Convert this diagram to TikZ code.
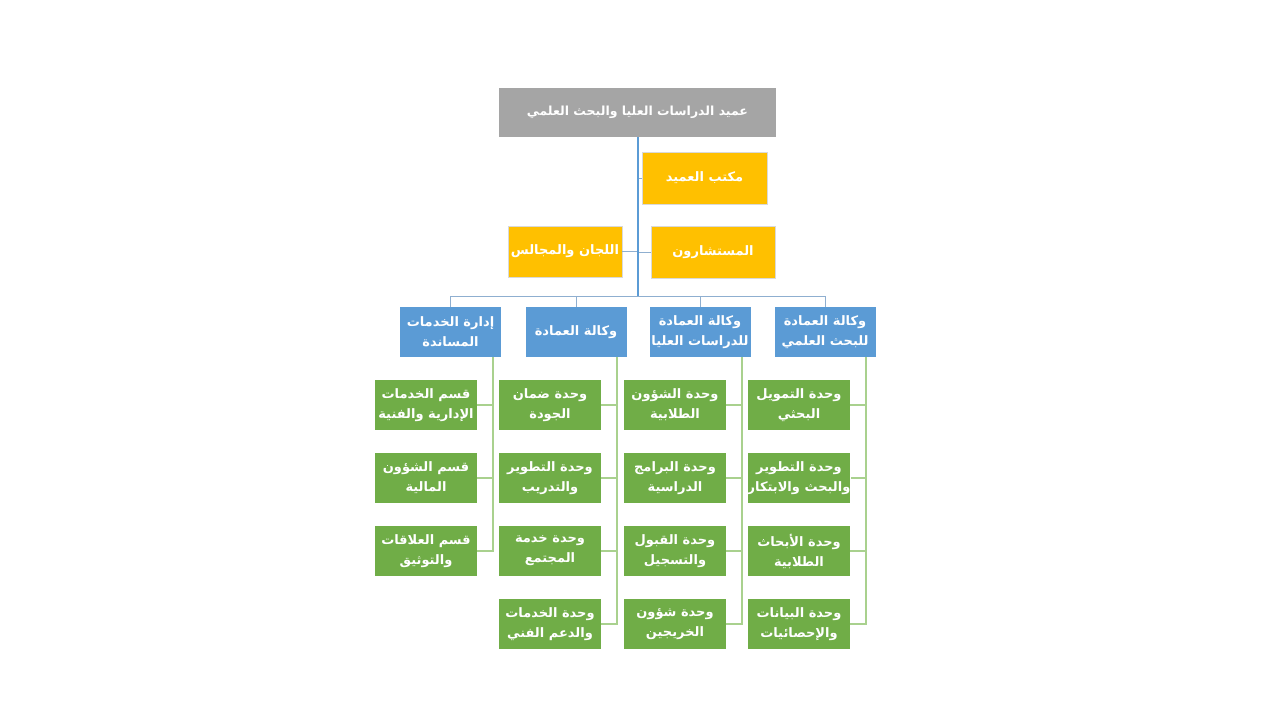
\documentclass[tikz,border=0pt]{standalone}
\usepackage{fontspec}
\TeXXeTstate=1
\newfontfamily\arabicfont[Script=Arabic]{DejaVu Sans}
\newcommand{\ar}[1]{{\arabicfont\bfseries\beginR #1\endR}}
\definecolor{grayfill}{HTML}{A5A5A5}
\definecolor{orangefill}{HTML}{FFC000}
\definecolor{bluefill}{HTML}{5B9BD5}
\definecolor{greenfill}{HTML}{70AD47}
\definecolor{busline}{HTML}{8FAFD0}
\definecolor{greenline}{HTML}{A9D18E}
\definecolor{orangeedge}{HTML}{D9D9D9}
\tikzset{
  base/.style={text=white, align=center, inner sep=0pt, font=\fontsize{13}{20}\selectfont},
  topbox/.style={base, fill=grayfill, minimum width=277pt, minimum height=49pt, font=\fontsize{12.5}{20}\selectfont},
  orangebox/.style={base, fill=orangefill, draw=orangeedge, line width=0.8pt, minimum height=52pt},
  bluebox/.style={base, fill=bluefill, minimum width=101pt, minimum height=50pt},
  greenbox/.style={base, fill=greenfill, minimum width=102pt, minimum height=50pt},
  trunk/.style={draw=bluefill, line width=1.8pt},
  busln/.style={draw=busline, line width=1pt},
  greenln/.style={draw=greenline, line width=1.5pt},
}
\begin{document}
\begin{tikzpicture}[x=1pt,y=-1pt]
\useasboundingbox (0,0) rectangle (1280,720);
% top
\node[topbox] (top) at (637.5,112.5) {\ar{عميد الدراسات العليا والبحث العلمي}};
\node[orangebox, minimum width=125pt] (office) at (704.5,178) {\ar{مكتب العميد}};
\node[orangebox, minimum width=124pt] (consult) at (713,252) {\ar{المستشارون}};
\node[orangebox, minimum width=114pt, minimum height=51pt] (comm) at (565,251.5) {\ar{اللجان والمجالس}};
% blue
\node[bluebox] (b1) at (450.5,332) {\ar{إدارة الخدمات}\\\ar{المساندة}};
\node[bluebox] (b2) at (576,332) {\ar{وكالة العمادة}};
\node[bluebox] (b3) at (700,332) {\ar{وكالة العمادة}\\\ar{للدراسات العليا}};
\node[bluebox] (b4) at (825,332) {\ar{وكالة العمادة}\\\ar{للبحث العلمي}};
% green col1
\node[greenbox] (g11) at (426,405) {\ar{قسم الخدمات}\\\ar{الإدارية والفنية}};
\node[greenbox] (g12) at (426,478) {\ar{قسم الشؤون}\\\ar{المالية}};
\node[greenbox] (g13) at (426,551) {\ar{قسم العلاقات}\\\ar{والتوثيق}};
% col2
\node[greenbox] (g21) at (550,405) {\ar{وحدة ضمان}\\\ar{الجودة}};
\node[greenbox] (g22) at (550,478) {\ar{وحدة التطوير}\\\ar{والتدريب}};
\node[greenbox] (g23) at (550,551) {\ar{وحدة خدمة}\\\ar{المجتمع}};
\node[greenbox] (g24) at (550,624) {\ar{وحدة الخدمات}\\\ar{والدعم الفني}};
% col3
\node[greenbox] (g31) at (675,405) {\ar{وحدة الشؤون}\\\ar{الطلابية}};
\node[greenbox] (g32) at (675,478) {\ar{وحدة البرامج}\\\ar{الدراسية}};
\node[greenbox] (g33) at (675,551) {\ar{وحدة القبول}\\\ar{والتسجيل}};
\node[greenbox] (g34) at (675,624) {\ar{وحدة شؤون}\\\ar{الخريجين}};
% col4
\node[greenbox] (g41) at (799,405) {\ar{وحدة التمويل}\\\ar{البحثي}};
\node[greenbox] (g42) at (799,478) {\ar{وحدة التطوير}\\\ar{والبحث والابتكار}};
\node[greenbox] (g43) at (799,551) {\ar{وحدة الأبحاث}\\\ar{الطلابية}};
\node[greenbox] (g44) at (799,624) {\ar{وحدة البيانات}\\\ar{والإحصائيات}};
% connectors top
\coordinate (bus) at (638,296);
\path[busln] (bus) -| (b1.north);
\path[busln] (bus) -| (b2.north);
\path[busln] (bus) -| (b3.north);
\path[busln] (bus) -| (b4.north);
\path[busln] (office.west) -- (office.west -| bus);
\path[busln] (consult.west) -- (consult.west -| bus);
\path[busln] (comm.east) -- (comm.east -| bus);
\path[trunk] (top.south -| bus) -- (bus);
% green connectors
\coordinate (v1) at (493,357);
\coordinate (v2) at (617,357);
\coordinate (v3) at (742,357);
\coordinate (v4) at (866,357);
\foreach \g in {g11,g12,g13} \path[greenln] (v1) |- (\g.east);
\foreach \g in {g21,g22,g23,g24} \path[greenln] (v2) |- (\g.east);
\foreach \g in {g31,g32,g33,g34} \path[greenln] (v3) |- (\g.east);
\foreach \g in {g41,g42,g43,g44} \path[greenln] (v4) |- (\g.east);
\end{tikzpicture}
\end{document}
